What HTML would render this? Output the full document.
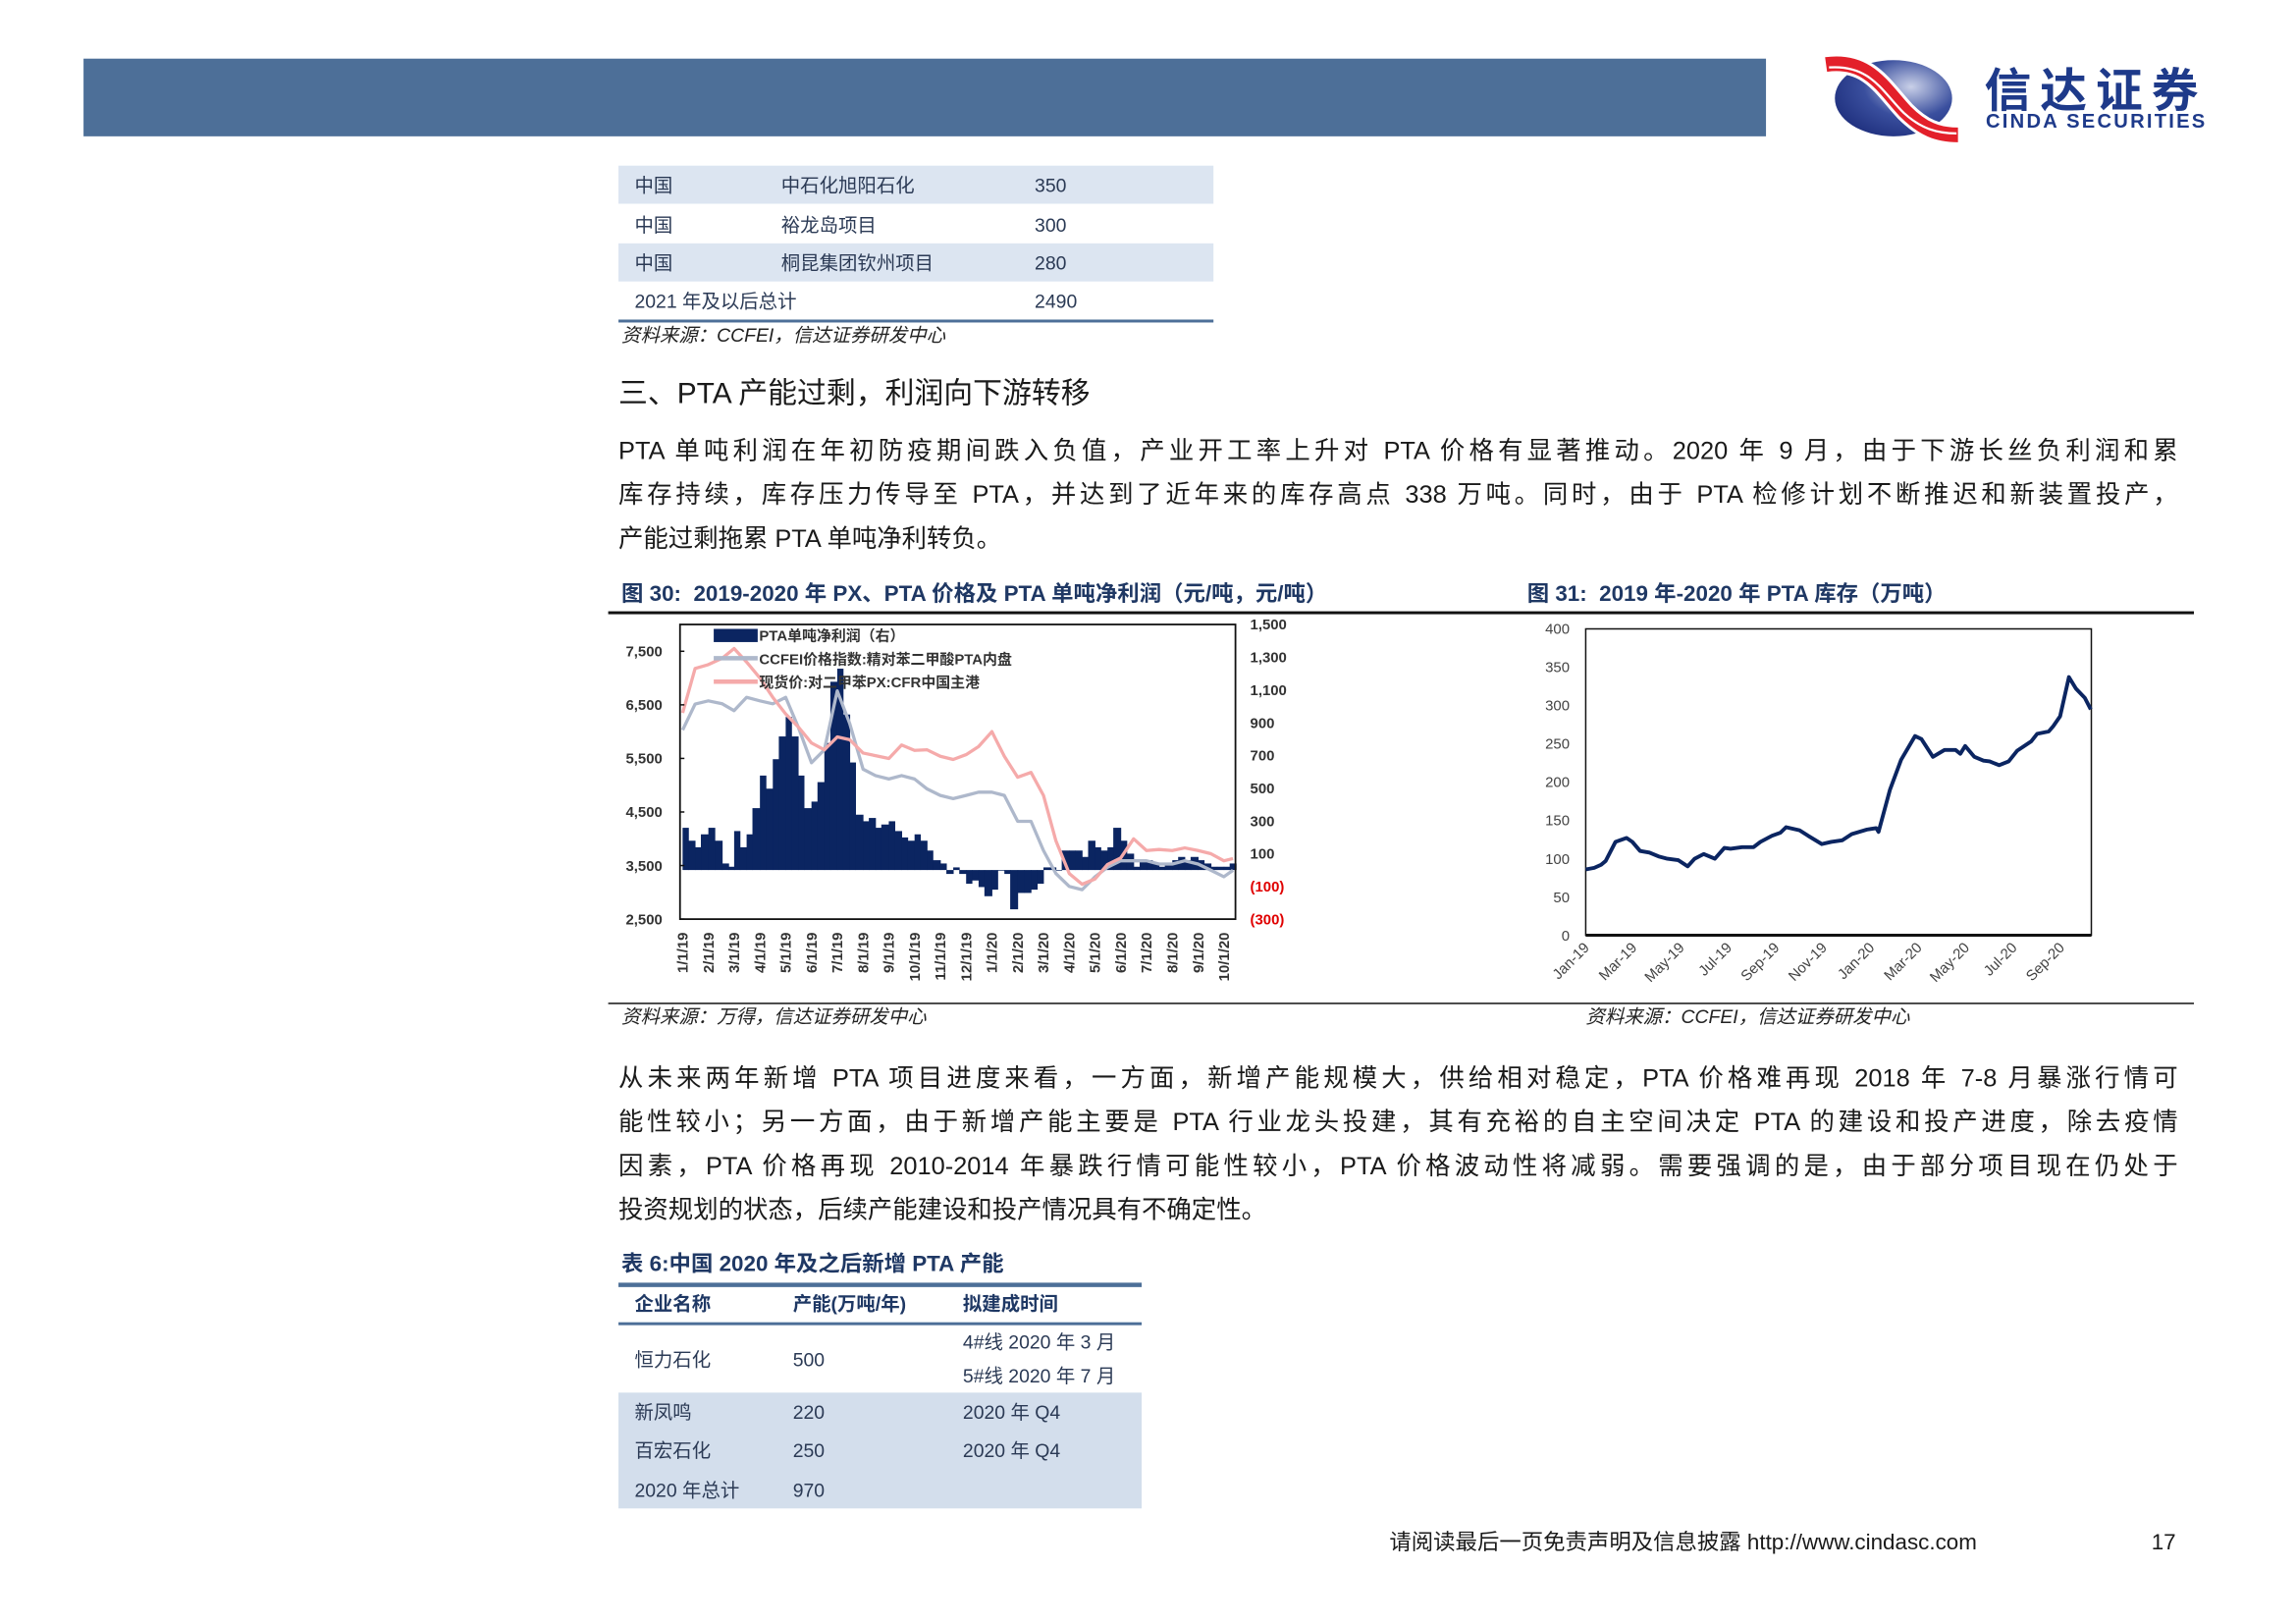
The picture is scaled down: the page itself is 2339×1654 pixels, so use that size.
<!DOCTYPE html>
<html><head><meta charset="utf-8">
<style>
html,body{margin:0;padding:0;background:#fff;}
body{width:2339px;height:1654px;overflow:hidden;position:relative;}
#page{position:absolute;left:0;top:0;width:1566px;height:1108px;transform:scale(1.4930);transform-origin:0 0;font-family:"Liberation Sans","Noto Sans CJK SC",sans-serif;color:#222;}
.abs{position:absolute;white-space:nowrap;line-height:1;}
.tb{font-size:13px;color:#2b3a55;line-height:19px;}
.para{position:absolute;left:422px;width:1064px;font-size:17px;color:#1a1a1a;}
.para div{height:30px;line-height:30px;text-align:justify;text-align-last:justify;white-space:nowrap;}
.para div.last{text-align-last:left;}
.ftitle{font-size:15px;font-weight:bold;color:#1f3864;}
.src{font-size:13px;font-style:italic;color:#222;}
</style></head>
<body>
<div id="page">
  <div class="abs" style="left:57px;top:40px;width:1148px;height:53px;background:#4d6f98;"></div>
  <svg class="abs" style="left:1240px;top:36px" width="100" height="62" viewBox="1240 36 100 62">
    <defs><radialGradient id="lg" cx="0.65" cy="0.35" r="0.8"><stop offset="0" stop-color="#c9d0e8"/><stop offset="0.5" stop-color="#3a4f9e"/><stop offset="1" stop-color="#1a2a78"/></radialGradient></defs>
    <ellipse cx="1292" cy="67" rx="40" ry="26" fill="url(#lg)"/>
    <path d="M1246,44 C1275,40 1285,60 1300,76 C1312,88 1322,92 1336,92" stroke="#fff" stroke-width="14" fill="none"/>
    <path d="M1246,44 C1275,40 1285,60 1300,76 C1312,88 1322,92 1336,92" stroke="#e3202a" stroke-width="10" fill="none"/>
    <path d="M1248,46 C1276,44 1284,62 1299,77 C1311,88 1322,91 1335,91" stroke="#fff" stroke-width="1.5" fill="none"/>
  </svg>
  <div class="abs" style="left:1354px;top:46px;font-size:32px;font-weight:bold;color:#1e3a8a;letter-spacing:6px;">信达证券</div>
  <div class="abs" style="left:1355px;top:76px;font-size:13.5px;font-weight:bold;color:#1e3a8a;letter-spacing:1.5px;">CINDA SECURITIES</div>

  <div class="abs" style="left:422px;top:113px;width:406px;height:107px;">
    <div style="position:absolute;left:0;top:0;width:406px;height:26px;background:#dce5f1;"></div>
    <div style="position:absolute;left:0;top:53px;width:406px;height:26px;background:#dce5f1;"></div>
    <div style="position:absolute;left:0;top:105px;width:406px;height:2px;background:#4d6f98;"></div>
    <div class="abs tb" style="left:11px;top:4px">中国</div><div class="abs tb" style="left:111px;top:4px">中石化旭阳石化</div><div class="abs tb" style="left:284px;top:4px">350</div>
    <div class="abs tb" style="left:11px;top:31px">中国</div><div class="abs tb" style="left:111px;top:31px">裕龙岛项目</div><div class="abs tb" style="left:284px;top:31px">300</div>
    <div class="abs tb" style="left:11px;top:57px">中国</div><div class="abs tb" style="left:111px;top:57px">桐昆集团钦州项目</div><div class="abs tb" style="left:284px;top:57px">280</div>
    <div class="abs tb" style="left:11px;top:83px">2021 年及以后总计</div><div class="abs tb" style="left:284px;top:83px">2490</div>
  </div>
  <div class="abs src" style="left:424px;top:222px;">资料来源：CCFEI，信达证券研发中心</div>

  <div class="abs" style="left:422px;top:259px;font-size:20px;color:#1a1a1a;">三、PTA 产能过剩，利润向下游转移</div>

  <div class="para" style="top:293px;">
    <div>PTA 单吨利润在年初防疫期间跌入负值，产业开工率上升对 PTA 价格有显著推动。2020 年 9 月，由于下游长丝负利润和累</div>
    <div>库存持续，库存压力传导至 PTA，并达到了近年来的库存高点 338 万吨。同时，由于 PTA 检修计划不断推迟和新装置投产，</div>
    <div class="last">产能过剩拖累 PTA 单吨净利转负。</div>
  </div>

  <div class="abs ftitle" style="left:424px;top:398px;">图 30:&nbsp; 2019-2020 年 PX、PTA 价格及 PTA 单吨净利润（元/吨，元/吨）</div>
  <div class="abs ftitle" style="left:1042px;top:398px;">图 31:&nbsp; 2019 年-2020 年 PTA 库存（万吨）</div>
  <div class="abs" style="left:415px;top:417px;width:1082px;height:1.5px;background:#111;"></div>
  <div class="abs" style="left:415px;top:684px;width:1082px;height:1px;background:#111;"></div>
  <div class="abs src" style="left:424px;top:687px;">资料来源：万得，信达证券研发中心</div>
  <div class="abs src" style="left:1082px;top:687px;">资料来源：CCFEI，信达证券研发中心</div>

  <svg id="chart30" class="abs" style="left:0;top:0" width="1556" height="1100" viewBox="0 0 1556 1100"></svg>
  <svg id="chart31" class="abs" style="left:0;top:0" width="1556" height="1100" viewBox="0 0 1556 1100"></svg>

  <div class="para" style="top:721px;">
    <div>从未来两年新增 PTA 项目进度来看，一方面，新增产能规模大，供给相对稳定，PTA 价格难再现 2018 年 7-8 月暴涨行情可</div>
    <div>能性较小；另一方面，由于新增产能主要是 PTA 行业龙头投建，其有充裕的自主空间决定 PTA 的建设和投产进度，除去疫情</div>
    <div>因素，PTA 价格再现 2010-2014 年暴跌行情可能性较小，PTA 价格波动性将减弱。需要强调的是，由于部分项目现在仍处于</div>
    <div class="last">投资规划的状态，后续产能建设和投产情况具有不确定性。</div>
  </div>

  <div class="abs ftitle" style="left:424px;top:855px;">表 6:中国 2020 年及之后新增 PTA 产能</div>
  <div class="abs" style="left:422px;top:875px;width:357px;height:154px;">
    <div style="position:absolute;left:0;top:0;width:357px;height:2.5px;background:#4d6f98;"></div>
    <div style="position:absolute;left:0;top:27px;width:357px;height:2px;background:#4d6f98;"></div>
    <div style="position:absolute;left:0;top:75px;width:357px;height:79px;background:#d3deec;"></div>
    <div class="abs tb" style="left:11px;top:5px;font-weight:bold;color:#1f3864;">企业名称</div>
    <div class="abs tb" style="left:119px;top:5px;font-weight:bold;color:#1f3864;">产能(万吨/年)</div>
    <div class="abs tb" style="left:235px;top:5px;font-weight:bold;color:#1f3864;">拟建成时间</div>
    <div class="abs tb" style="left:11px;top:43px">恒力石化</div><div class="abs tb" style="left:119px;top:43px">500</div>
    <div class="abs tb" style="left:235px;top:31px">4#线 2020 年 3 月</div><div class="abs tb" style="left:235px;top:54px">5#线 2020 年 7 月</div>
    <div class="abs tb" style="left:11px;top:79px">新凤鸣</div><div class="abs tb" style="left:119px;top:79px">220</div><div class="abs tb" style="left:235px;top:79px">2020 年 Q4</div>
    <div class="abs tb" style="left:11px;top:105px">百宏石化</div><div class="abs tb" style="left:119px;top:105px">250</div><div class="abs tb" style="left:235px;top:105px">2020 年 Q4</div>
    <div class="abs tb" style="left:11px;top:132px">2020 年总计</div><div class="abs tb" style="left:119px;top:132px">970</div>
  </div>

  <div class="abs" style="left:948px;top:1045px;font-size:15px;color:#1a1a1a;">请阅读最后一页免责声明及信息披露 http://www.cindasc.com</div>
  <div class="abs" style="left:1468px;top:1045px;font-size:15px;color:#1a1a1a;">17</div>
</div>

<script>
const NS='http://www.w3.org/2000/svg';
const priceDates=['2019-01-01','2019-01-16','2019-02-01','2019-02-16','2019-03-01','2019-03-16','2019-04-01','2019-04-16','2019-05-01','2019-05-16','2019-06-01','2019-06-16','2019-07-01','2019-07-16','2019-08-01','2019-08-16','2019-09-01','2019-09-16','2019-10-01','2019-10-16','2019-11-01','2019-11-16','2019-12-01','2019-12-16','2020-01-01','2020-01-16','2020-02-01','2020-02-16','2020-03-01','2020-03-16','2020-04-01','2020-04-16','2020-05-01','2020-05-16','2020-06-01','2020-06-16','2020-07-01','2020-07-16','2020-08-01','2020-08-16','2020-09-01','2020-09-16','2020-10-01','2020-10-12'];
const pxValues=[6350,7180,7250,7370,7550,7300,7000,6640,6330,6090,5790,5660,5900,5850,5600,5550,5500,5750,5650,5660,5540,5480,5570,5720,6000,5540,5150,5240,4810,3960,3350,3150,3250,3520,3640,4000,3780,3800,3780,3830,3780,3720,3590,3630];
const ptaValues=[6030,6515,6575,6520,6390,6640,6575,6520,6640,6090,5420,5660,6760,6150,5300,5180,5115,5180,5115,4930,4810,4750,4810,4870,4870,4810,4325,4325,3780,3350,3110,3050,3290,3470,3590,3590,3590,3530,3530,3590,3530,3410,3290,3410];
const profitDates=['2019-01-01','2019-01-08','2019-01-16','2019-01-23','2019-02-01','2019-02-08','2019-02-16','2019-02-23','2019-03-01','2019-03-08','2019-03-16','2019-03-23','2019-04-01','2019-04-08','2019-04-16','2019-04-23','2019-05-01','2019-05-08','2019-05-16','2019-05-23','2019-06-01','2019-06-08','2019-06-16','2019-06-23','2019-07-01','2019-07-08','2019-07-16','2019-07-23','2019-08-01','2019-08-08','2019-08-16','2019-08-23','2019-09-01','2019-09-08','2019-09-16','2019-09-23','2019-10-01','2019-10-08','2019-10-16','2019-10-23','2019-11-01','2019-11-08','2019-11-16','2019-11-23','2019-12-01','2019-12-08','2019-12-16','2019-12-23','2020-01-01','2020-01-08','2020-01-16','2020-01-23','2020-02-01','2020-02-08','2020-02-16','2020-02-23','2020-03-01','2020-03-08','2020-03-16','2020-03-23','2020-04-01','2020-04-08','2020-04-16','2020-04-23','2020-05-01','2020-05-08','2020-05-16','2020-05-23','2020-06-01','2020-06-08','2020-06-16','2020-06-23','2020-07-01','2020-07-08','2020-07-16','2020-07-23','2020-08-01','2020-08-08','2020-08-16','2020-08-23','2020-09-01','2020-09-08','2020-09-16','2020-09-23','2020-10-01','2020-10-08'];
const profitValues=[258,179,139,218,258,179,40,20,238,139,218,378,577,497,677,816,935,816,577,378,418,537,776,1150,1230,950,657,338,298,318,258,278,298,238,199,179,218,179,119,60,40,-24,16,-24,-84,-64,-104,-160,-120,-4,-24,-240,-140,-140,-120,-84,16,16,-4,119,119,119,80,179,139,119,139,258,179,100,20,60,60,40,20,40,60,80,60,80,60,40,20,20,20,40];
const leftTicks=[2500,3500,4500,5500,6500,7500];
const leftTickLabels=['2,500','3,500','4,500','5,500','6,500','7,500'];
const rightTicks=[-300,-100,100,300,500,700,900,1100,1300,1500];
const rightTickLabels=['(300)','(100)','100','300','500','700','900','1,100','1,300','1,500'];
const monthLabels30=['1/1/19','2/1/19','3/1/19','4/1/19','5/1/19','6/1/19','7/1/19','8/1/19','9/1/19','10/1/19','11/1/19','12/1/19','1/1/20','2/1/20','3/1/20','4/1/20','5/1/20','6/1/20','7/1/20','8/1/20','9/1/20','10/1/20'];
const legendLabels30=['PTA单吨净利润（右）','CCFEI价格指数:精对苯二甲酸PTA内盘','现货价:对二甲苯PX:CFR中国主港'];
const invDates=['2019-01-01','2019-01-12','2019-01-21','2019-01-27','2019-02-08','2019-02-21','2019-02-28','2019-03-10','2019-03-22','2019-04-03','2019-04-14','2019-04-28','2019-05-10','2019-05-19','2019-05-31','2019-06-14','2019-06-26','2019-07-04','2019-07-19','2019-08-03','2019-08-12','2019-08-27','2019-09-07','2019-09-14','2019-10-01','2019-10-12','2019-10-30','2019-11-11','2019-11-25','2019-12-07','2019-12-27','2020-01-08','2020-01-11','2020-01-26','2020-02-09','2020-02-26','2020-03-05','2020-03-20','2020-04-04','2020-04-18','2020-04-24','2020-04-30','2020-05-12','2020-05-24','2020-06-01','2020-06-13','2020-06-25','2020-07-06','2020-07-24','2020-08-01','2020-08-16','2020-08-22','2020-08-31','2020-09-11','2020-09-20','2020-10-01','2020-10-09'];
const invValues=[86,88,92,97,122,127,122,110,108,103,100,98,90,100,106,100,114,113,115,115,122,130,134,141,137,130,119,122,124,132,138,140,135,190,229,260,256,233,242,242,237,247,233,228,227,222,227,241,253,263,266,273,286,337,322,310,295];
const invTicks=[0,50,100,150,200,250,300,350,400];
const invMonthLabels=['Jan-19','Mar-19','May-19','Jul-19','Sep-19','Nov-19','Jan-20','Mar-20','May-20','Jul-20','Sep-20'];
const invMonthOffsets=[0,2,4,6,8,10,12,14,16,18,20];

function monthIndex(s){const p=s.split('-').map(Number);const dim=new Date(p[0],p[1],0).getDate();return (p[0]-2019)*12+(p[1]-1)+(p[2]-1)/dim;}
function mk(svg,tag,attrs){const e=document.createElementNS(NS,tag);for(const k in attrs)e.setAttribute(k,attrs[k]);svg.appendChild(e);return e;}

(function(){
  const svg=document.getElementById('chart30');
  const L=464,R=843,T=426,B=627,xmin=-0.1,xmax=21.45;
  const x=m=>L+(m-xmin)/(xmax-xmin)*(R-L);
  const yL=v=>T+(8000-v)/5500*(B-T);
  const yR=v=>T+(1500-v)/1800*(B-T);
  const font='"Liberation Sans","Noto Sans CJK SC",sans-serif';
  const base=yR(0);
  for(let i=0;i<profitValues.length;i++){
    const m0=monthIndex(profitDates[i]);
    const m1=i+1<profitDates.length?monthIndex(profitDates[i+1]):m0+0.25;
    const y=yR(profitValues[i]);
    const r=mk(svg,'rect',{x:x(m0),y:Math.min(y,base),width:Math.max(0.5,x(m1)-x(m0)+0.3),height:Math.abs(base-y),fill:'#0b2561'});
    
    
  }
  function line(vals,color,name){
    const d=vals.map((v,i)=>(i?'L':'M')+x(monthIndex(priceDates[i])).toFixed(1)+','+yL(v).toFixed(1)).join(' ');
    const p=mk(svg,'path',{d:d,fill:'none',stroke:color,'stroke-width':2.2,'stroke-linejoin':'round'});
    
    
  }
  line(ptaValues,'#aeb8cb','pta-price-line');
  line(pxValues,'#f5aaaa','px-price-line');
  const box=mk(svg,'rect',{x:L,y:T,width:R-L,height:B-T,fill:'none',stroke:'#111','stroke-width':1.2});
  
  
  leftTicks.forEach((v,i)=>{
    const t=mk(svg,'text',{x:452,y:yL(v)+3.5,'text-anchor':'end','font-size':10,'font-weight':'bold','font-family':font,fill:'#333'});
    t.textContent=leftTickLabels[i];
    
    
    mk(svg,'line',{x1:L,x2:L+3,y1:yL(v),y2:yL(v),stroke:'#111','stroke-width':1});
  });
  rightTicks.forEach((v,i)=>{
    const t=mk(svg,'text',{x:853,y:yR(v)+3.5,'font-size':10,'font-weight':'bold','font-family':font,fill:v<0?'#e00000':'#333'});
    t.textContent=rightTickLabels[i];
    
    
  });
  monthLabels30.forEach((s,i)=>{
    const xx=x(i);
    const t=mk(svg,'text',{x:0,y:0,transform:'translate('+(xx+3.5)+',636) rotate(-90)','text-anchor':'end','font-size':10,'font-weight':'bold','font-family':font,fill:'#333'});
    t.textContent=s;
    
    
  });
  const lg=mk(svg,'rect',{x:487,y:429,width:30,height:9,fill:'#0b2561'});
  
  
  const l2=mk(svg,'line',{x1:487,x2:517,y1:449,y2:449,stroke:'#aeb8cb','stroke-width':3});
  
  
  const l3=mk(svg,'line',{x1:487,x2:517,y1:465,y2:465,stroke:'#f5aaaa','stroke-width':3});
  
  
  legendLabels30.forEach((s,i)=>{
    const t=mk(svg,'text',{x:518,y:437+i*16,'font-size':10,'font-weight':'bold','font-family':font,fill:'#333'});
    t.textContent=s;
    
    
  });
})();

(function(){
  const svg=document.getElementById('chart31');
  const L=1082,R=1427,T=429,B=638,xmin=0,xmax=21.28;
  const x=m=>L+(m-xmin)/(xmax-xmin)*(R-L);
  const y=v=>B-v/400*(B-T);
  const font='"Liberation Sans","Noto Sans CJK SC",sans-serif';
  const box=mk(svg,'rect',{x:L,y:T,width:R-L,height:B-T,fill:'none',stroke:'#111','stroke-width':1});
  
  
  const ax=mk(svg,'line',{x1:L,x2:R,y1:B,y2:B,stroke:'#111','stroke-width':2});
  
  
  invTicks.forEach(v=>{
    const t=mk(svg,'text',{x:1071,y:y(v)+3.5,'text-anchor':'end','font-size':10,'font-family':font,fill:'#444'});
    t.textContent=String(v);
    
    
  });
  invMonthLabels.forEach((s,i)=>{
    const xx=x(invMonthOffsets[i]);
    const t=mk(svg,'text',{x:0,y:0,transform:'translate('+(xx+3)+',647) rotate(-45)','text-anchor':'end','font-size':10,'font-family':font,fill:'#444'});
    t.textContent=s;
    
    
  });
  const d=invValues.map((v,i)=>(i?'L':'M')+x(monthIndex(invDates[i])).toFixed(1)+','+y(v).toFixed(1)).join(' ');
  const p=mk(svg,'path',{d:d,fill:'none',stroke:'#0b2561','stroke-width':2.6,'stroke-linejoin':'round'});
  
  
})();
</script>
</body></html>
